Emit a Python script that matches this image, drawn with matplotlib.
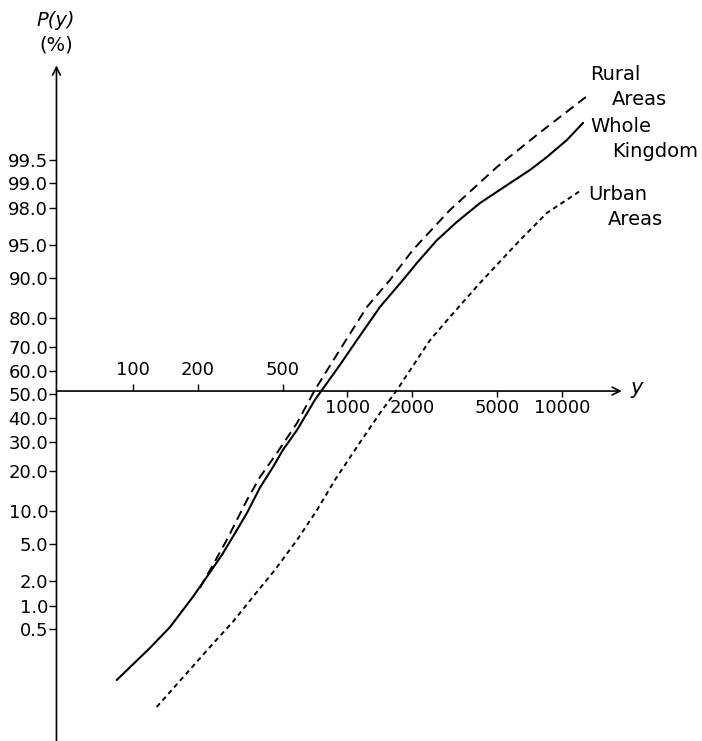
import numpy as np
import matplotlib
matplotlib.use('Agg')
import matplotlib.pyplot as plt
from statistics import NormalDist

# income y (log axis) against cumulative percentage P(y) (probability axis)
whole_y = [84, 120, 149, 190, 221, 260, 292, 340, 391, 450, 500, 582, 705, 761, 922, 1107, 1418,
           1816, 2110, 2612, 3236, 4150, 5546, 7100, 8510, 10550, 12540]
whole_p = [0.085, 0.267, 0.531, 1.30, 2.25, 3.9, 5.87, 9.64, 15.3, 21.3, 27.1, 34.8, 47.6, 52.0, 62.7, 72.5, 83.2,
           89.6, 92.6, 95.5, 97.1, 98.23, 98.93, 99.32, 99.547, 99.742, 99.858]

rural_y = [205, 233, 274, 340, 391, 469, 582, 705, 984, 1233, 1579, 2020, 3006, 4980, 7890, 13100]
rural_p = [1.67, 2.9, 5.5, 12.3, 18.2, 26.0, 37.7, 52.0, 72.5, 83.2, 89.6, 94.4, 97.87, 99.38, 99.80, 99.948]

urban_y = [129, 233, 292, 362, 459, 582, 721, 875, 1107, 1418, 1702, 2427, 3006, 4150, 6370, 8510, 12130]
urban_p = [0.0297, 0.295, 0.621, 1.30, 2.69, 5.49, 10.2, 17.4, 28.2, 41.9, 52.0, 72.5, 80.3, 89.0, 95.5, 97.7, 98.73]

p_ticks = [0.5, 1.0, 2.0, 5.0, 10.0, 20.0, 30.0, 40.0, 50.0, 60.0, 70.0, 80.0, 90.0, 95.0, 98.0, 99.0, 99.5]
x_ticks_above = [100, 200, 500]
x_ticks_below = [1000, 2000, 5000, 10000]

nd = NormalDist()
_ppf = np.vectorize(nd.inv_cdf, otypes=[float])
_cdf = np.vectorize(nd.cdf, otypes=[float])


def forward(p):
    p = np.clip(np.asarray(p, dtype=float) / 100.0, 1e-12, 1 - 1e-12)
    return _ppf(p)


def inverse(z):
    return _cdf(np.asarray(z, dtype=float)) * 100.0


fig = plt.figure(figsize=(7.02, 7.41), dpi=100)
ax = fig.add_axes([0, 0, 1, 1])
ax.set_xscale('log')
ax.set_yscale('function', functions=(forward, inverse))
ax.set_xlim(24.0, 44950)
ax.set_ylim(0.0070, 99.99927)

x_axis_at = 51.5
y_axis_at = 44
x_end = 19000
y_end = 99.985

ax.plot(whole_y, whole_p, color='black', lw=1.5, solid_capstyle='round', solid_joinstyle='round')
ax.plot(rural_y, rural_p, color='black', lw=1.4, dashes=(5, 3))
ax.plot(urban_y, urban_p, color='black', lw=1.4, dashes=(2.5, 2))

for s in ax.spines.values():
    s.set_visible(False)
ax.spines['left'].set_position(('data', y_axis_at))
ax.spines['bottom'].set_position(('data', x_axis_at))
ax.spines['top'].set_position(('data', x_axis_at))

ax.annotate('', xy=(y_axis_at, y_end), xytext=(y_axis_at, 0.0070),
            arrowprops=dict(arrowstyle='->', lw=1.2, color='black',
                            shrinkA=0, shrinkB=0, mutation_scale=14))
ax.annotate('', xy=(x_end, x_axis_at), xytext=(y_axis_at, x_axis_at),
            arrowprops=dict(arrowstyle='->', lw=1.2, color='black',
                            shrinkA=0, shrinkB=0, mutation_scale=14))

ax.set_yticks(p_ticks)
ax.set_yticklabels(['%.1f' % p for p in p_ticks])
ax.yaxis.set_minor_locator(matplotlib.ticker.NullLocator())
ax.tick_params(axis='y', which='major', direction='out', length=5, width=1,
               pad=1, labelsize=13, left=True, right=False)

ax.xaxis.set_ticks_position('both')
ax.set_xticks(x_ticks_below)
ax.set_xticklabels([str(v) for v in x_ticks_below])
ax.set_xticks(x_ticks_above, minor=True)
ax.set_xticklabels([str(v) for v in x_ticks_above], minor=True)
ax.tick_params(axis='x', which='major', direction='out', length=4, width=1,
               pad=2, labelsize=13, bottom=True, top=False,
               labelbottom=True, labeltop=False)
ax.tick_params(axis='x', which='minor', direction='out', length=5, width=1,
               pad=4, labelsize=13, bottom=False, top=True,
               labelbottom=False, labeltop=True)

ax.text(56 / 702, 1 - 20 / 741, 'P(y)', transform=ax.transAxes, fontsize=14,
        style='italic', ha='center', va='center')
ax.text(56 / 702, 1 - 45 / 741, '(%)', transform=ax.transAxes, fontsize=14,
        ha='center', va='center')
ax.text(637 / 702, 1 - 388 / 741, 'y', transform=ax.transAxes, fontsize=15,
        style='italic', ha='center', va='center')

labels = [('Rural', 590, 80), ('Areas', 612, 105),
          ('Whole', 590, 132), ('Kingdom', 612, 157),
          ('Urban', 588, 200), ('Areas', 608, 225)]
for txt, px, row in labels:
    ax.text(px / 702, 1 - row / 741, txt, transform=ax.transAxes,
            fontsize=14, ha='left', va='baseline')

plt.savefig('out.png', dpi=100)
